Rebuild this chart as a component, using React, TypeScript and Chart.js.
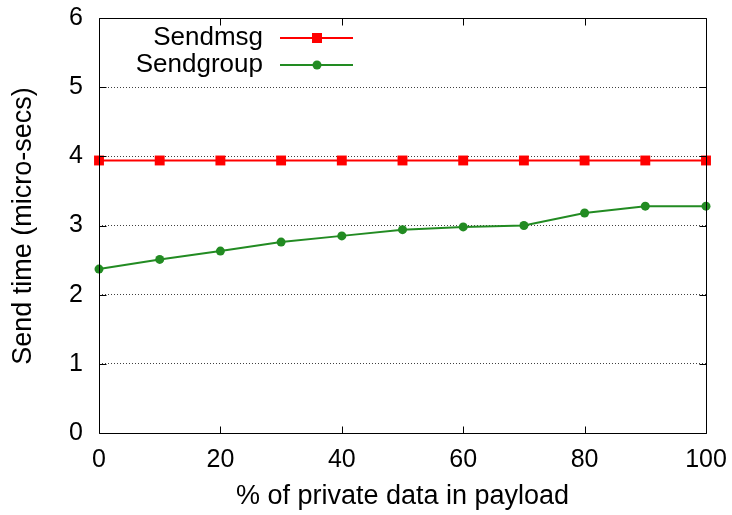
import React, { useEffect, useRef } from "react";
import { Chart, registerables } from "chart.js";

Chart.register(...registerables);

const xValues = [0, 10, 20, 30, 40, 50, 60, 70, 80, 90, 100];
const sendmsg = [3.94, 3.94, 3.94, 3.94, 3.94, 3.94, 3.94, 3.94, 3.94, 3.94, 3.94];
const sendgroup = [2.37, 2.51, 2.63, 2.76, 2.85, 2.94, 2.98, 3.0, 3.18, 3.28, 3.28];
const xTicks = [0, 20, 40, 60, 80, 100];
const yTicks = [0, 1, 2, 3, 4, 5, 6];
const seriesNames = ["Sendmsg", "Sendgroup"];
const seriesColors = ["#ff0000", "#228b22"];
const xTitle = "% of private data in payload";
const yTitle = "Send time (micro-secs)";

const FONT = "'Liberation Sans', Arial, Helvetica, sans-serif";

const framePlugin = {
  id: "gnuplotFrame",
  afterDatasetsDraw(chart: any) {
    const { ctx, chartArea } = chart;
    const { left, right, top, bottom } = chartArea;
    const xs = chart.scales.x;
    const ys = chart.scales.y;
    ctx.save();
    ctx.strokeStyle = "#000";
    ctx.lineWidth = 1;
    ctx.setLineDash([]);
    ctx.beginPath();
    const L = Math.round(left) + 0.5;
    const R = Math.round(right) + 0.5;
    const T = Math.round(top) + 0.5;
    const B = Math.round(bottom) + 0.5;
    ctx.rect(L, T, R - L, B - T);
    const tl = 7;
    yTicks.forEach((v) => {
      const y = Math.round(ys.getPixelForValue(v)) + 0.5;
      ctx.moveTo(L, y);
      ctx.lineTo(L + tl, y);
      ctx.moveTo(R, y);
      ctx.lineTo(R - tl, y);
    });
    xTicks.forEach((v) => {
      const x = Math.round(xs.getPixelForValue(v)) + 0.5;
      ctx.moveTo(x, B);
      ctx.lineTo(x, B - tl);
      ctx.moveTo(x, T);
      ctx.lineTo(x, T + tl);
    });
    ctx.stroke();
    ctx.restore();
  },
  afterDraw(chart: any) {
    const { ctx, chartArea } = chart;
    ctx.save();
    ctx.fillStyle = "#000";
    ctx.font = `27px ${FONT}`;
    ctx.textAlign = "center";
    ctx.textBaseline = "middle";
    ctx.fillText(xTitle, (chartArea.left + chartArea.right) / 2, 497);
    ctx.save();
    ctx.translate(24, 226);
    ctx.rotate(-Math.PI / 2);
    ctx.fillText(yTitle, 0, 0);
    ctx.restore();
    ctx.font = `26px ${FONT}`;
    const rows = [38, 65];
    seriesNames.forEach((name, i) => {
      const y = rows[i];
      ctx.textAlign = "right";
      ctx.fillStyle = "#000";
      ctx.fillText(name, 263, y);
      ctx.strokeStyle = seriesColors[i];
      ctx.lineWidth = 2;
      ctx.beginPath();
      ctx.moveTo(280, y);
      ctx.lineTo(353, y);
      ctx.stroke();
      ctx.fillStyle = seriesColors[i];
      if (i === 0) {
        ctx.fillRect(317 - 5, y - 5, 10, 10);
      } else {
        ctx.beginPath();
        ctx.arc(317, y, 4.5, 0, Math.PI * 2);
        ctx.fill();
      }
    });
    ctx.restore();
  },
};

const noPad = (s: any) => {
  s.paddingTop = 0;
  s.paddingBottom = 0;
  s.paddingLeft = 0;
  s.paddingRight = 0;
};

export default function App() {
  const ref = useRef<HTMLCanvasElement | null>(null);
  useEffect(() => {
    document.body.style.margin = "0";
    if (!ref.current) return;
    const chart = new Chart(ref.current, {
      type: "line",
      data: {
        datasets: [
          {
            label: seriesNames[0],
            data: xValues.map((x, i) => ({ x, y: sendmsg[i] })),
            borderColor: seriesColors[0],
            backgroundColor: seriesColors[0],
            borderWidth: 2,
            pointStyle: "rect",
            pointRadius: 7,
            pointBorderWidth: 0,
            clip: false as any,
          },
          {
            label: seriesNames[1],
            data: xValues.map((x, i) => ({ x, y: sendgroup[i] })),
            borderColor: seriesColors[1],
            backgroundColor: seriesColors[1],
            borderWidth: 2,
            pointStyle: "circle",
            pointRadius: 4.5,
            pointBorderWidth: 0,
            clip: false as any,
          },
        ],
      },
      options: {
        responsive: false,
        animation: false,
        layout: { padding: { top: 18, right: 26, left: 0, bottom: 0 } },
        plugins: { legend: { display: false }, tooltip: { enabled: false } },
        scales: {
          x: {
            type: "linear",
            min: 0,
            max: 100,
            afterBuildTicks: (s: any) => {
              s.ticks = xTicks.map((v) => ({ value: v }));
            },
            afterFit: (s: any) => {
              s.height = 82;
              noPad(s);
            },
            grid: { display: false, drawTicks: false },
            border: { display: false },
            ticks: {
              color: "#000",
              font: { size: 25, family: FONT },
              padding: 12,
              maxRotation: 0,
              autoSkip: false,
            },
          },
          y: {
            type: "linear",
            min: 0,
            max: 6,
            afterBuildTicks: (s: any) => {
              s.ticks = yTicks.map((v) => ({ value: v }));
            },
            afterFit: (s: any) => {
              s.width = 99;
              noPad(s);
            },
            grid: {
              drawTicks: false,
              color: (c: any) =>
                c.tick && (c.tick.value === 0 || c.tick.value === 6)
                  ? "rgba(0,0,0,0)"
                  : "rgba(0,0,0,0.75)",
              lineWidth: 1,
            },
            border: { display: false, dash: [1, 2] },
            ticks: {
              color: "#000",
              font: { size: 25, family: FONT },
              padding: 16,
              autoSkip: false,
            },
          },
        },
      },
      plugins: [framePlugin],
    });
    return () => chart.destroy();
  }, []);
  return (
    <div style={{ position: "absolute", left: 0, top: 0, width: 732, height: 515 }}>
      <canvas ref={ref} width={732} height={515} style={{ width: 732, height: 515 }} />
    </div>
  );
}
